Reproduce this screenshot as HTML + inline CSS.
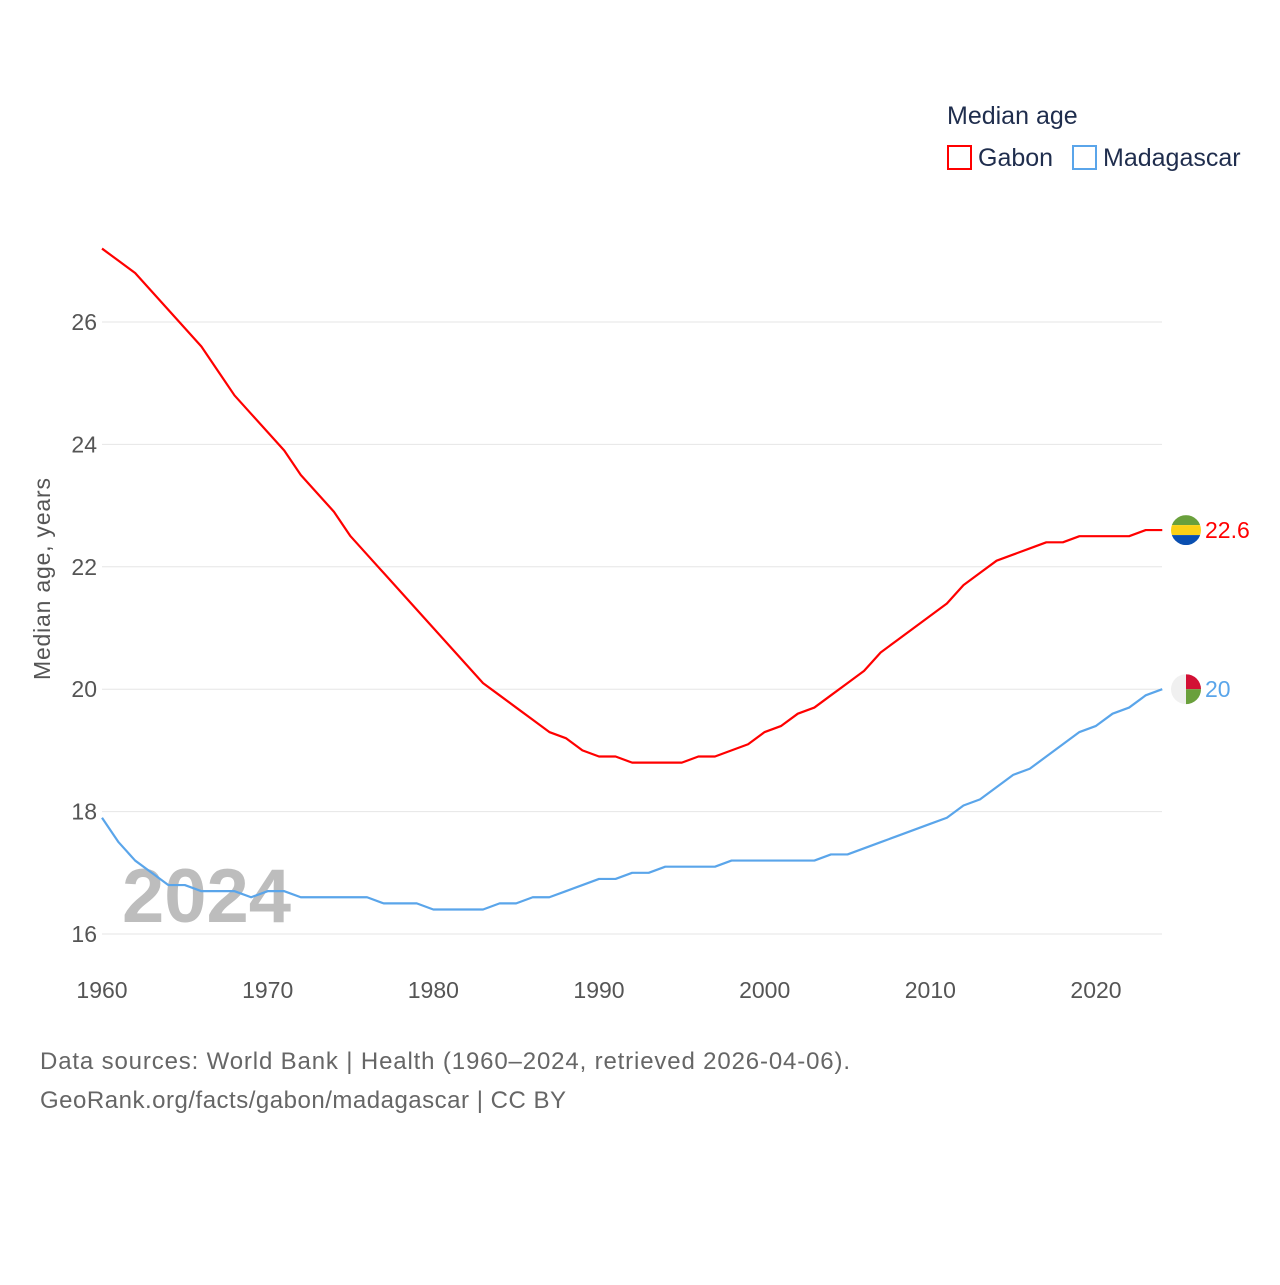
<!DOCTYPE html>
<html><head><meta charset="utf-8"><style>
body{margin:0;background:#fff;}
svg text{font-family:"Liberation Sans",sans-serif;}
</style></head><body>
<svg id="chart" width="1280" height="1280" xmlns="http://www.w3.org/2000/svg">
<g id="grid"></g>
<g id="ticks"></g>
<text x="122" y="922" font-size="76" font-weight="bold" fill="#bdbdbd">2024</text>
<g id="lines"></g>
<text transform="translate(50,579) rotate(-90)" text-anchor="middle" font-size="23" fill="#555" textLength="202">Median age, years</text>
<text x="947" y="124" font-size="25" fill="#1f2d4d">Median age</text>
<rect x="948" y="146" width="23" height="23" fill="none" stroke="#ff0000" stroke-width="2"/>
<text x="978" y="166" font-size="25" fill="#1f2d4d">Gabon</text>
<rect x="1073" y="146" width="23" height="23" fill="none" stroke="#5aa5ea" stroke-width="2"/>
<text x="1103" y="166" font-size="25" fill="#1f2d4d">Madagascar</text>
<text x="40" y="1069" font-size="24" fill="#666" textLength="810">Data sources: World Bank | Health (1960–2024, retrieved 2026-04-06).</text>
<text x="40" y="1108" font-size="24" fill="#666" textLength="526">GeoRank.org/facts/gabon/madagascar | CC BY</text>
</svg>
<script>
const years=[];for(let y=1960;y<=2024;y++)years.push(y);
const gabon=[27.2,27.0,26.8,26.5,26.2,25.9,25.6,25.2,24.8,24.5,24.2,23.9,23.5,23.2,22.9,22.5,22.2,21.9,21.6,21.3,21.0,20.7,20.4,20.1,19.9,19.7,19.5,19.3,19.2,19.0,18.9,18.9,18.8,18.8,18.8,18.8,18.9,18.9,19.0,19.1,19.3,19.4,19.6,19.7,19.9,20.1,20.3,20.6,20.8,21.0,21.2,21.4,21.7,21.9,22.1,22.2,22.3,22.4,22.4,22.5,22.5,22.5,22.5,22.6,22.6];
const madagascar=[17.9,17.5,17.2,17.0,16.8,16.8,16.7,16.7,16.7,16.6,16.7,16.7,16.6,16.6,16.6,16.6,16.6,16.5,16.5,16.5,16.4,16.4,16.4,16.4,16.5,16.5,16.6,16.6,16.7,16.8,16.9,16.9,17.0,17.0,17.1,17.1,17.1,17.1,17.2,17.2,17.2,17.2,17.2,17.2,17.3,17.3,17.4,17.5,17.6,17.7,17.8,17.9,18.1,18.2,18.4,18.6,18.7,18.9,19.1,19.3,19.4,19.6,19.7,19.9,20.0];
const yTicks=[16,18,20,22,24,26];
const xTicks=[1960,1970,1980,1990,2000,2010,2020];
const NS="http://www.w3.org/2000/svg";
const X=v=>102+(v-1960)*(1096-102)/60;
const Y=v=>934-(v-16)*61.2;
function mk(tag,attrs,parent){const e=document.createElementNS(NS,tag);for(const k in attrs)e.setAttribute(k,attrs[k]);parent.appendChild(e);return e;}
const grid=document.getElementById('grid'),ticks=document.getElementById('ticks'),lines=document.getElementById('lines');
yTicks.forEach(t=>{
 const l=mk('line',{x1:102,x2:1162,y1:Y(t),y2:Y(t),stroke:'#e6e6e6','stroke-width':1},grid);
 
 
 const tx=mk('text',{x:97,y:Y(t)+8,'text-anchor':'end','font-size':23,fill:'#555'},ticks);
 tx.textContent=t;
 
 
});
xTicks.forEach(t=>{
 const tx=mk('text',{x:X(t),y:998,'text-anchor':'middle','font-size':23,fill:'#555'},ticks);
 tx.textContent=t;
 
 
});
function series(vals,color,name){
 const p=mk('polyline',{points:vals.map((v,i)=>X(years[i])+','+Y(v)).join(' '),fill:'none',stroke:color,'stroke-width':2.2,'stroke-linejoin':'round'},lines);
 
 
}
series(gabon,'#ff0000','line-gabon');
series(madagascar,'#5aa5ea','line-madagascar');
const svg=document.getElementById('chart');
const gx=1186,gy=Y(gabon[gabon.length-1]),my=Y(madagascar[madagascar.length-1]);
const defs=mk('defs',{},svg);
const c1=mk('clipPath',{id:'cg'},defs);mk('circle',{cx:gx,cy:gy,r:15},c1);
const c2=mk('clipPath',{id:'cm'},defs);mk('circle',{cx:gx,cy:my,r:15},c2);
const fg=mk('g',{'clip-path':'url(#cg)'},svg);


mk('rect',{x:gx-15,y:gy-15,width:30,height:10,fill:'#6aa03c'},fg);
mk('rect',{x:gx-15,y:gy-5,width:30,height:10,fill:'#fcd116'},fg);
mk('rect',{x:gx-15,y:gy+5,width:30,height:10,fill:'#0a4fb0'},fg);
const fm=mk('g',{'clip-path':'url(#cm)'},svg);


mk('rect',{x:gx-15,y:my-15,width:30,height:30,fill:'#f0f0f0'},fm);
mk('rect',{x:gx,y:my-15,width:15,height:15,fill:'#d21034'},fm);
mk('rect',{x:gx,y:my,width:15,height:15,fill:'#6aa03c'},fm);
const lg=mk('text',{x:1205,y:gy+8,'font-size':23,fill:'#ff0000'},svg);
lg.textContent=gabon[gabon.length-1];


const lm=mk('text',{x:1205,y:my+8,'font-size':23,fill:'#5aa5ea'},svg);
lm.textContent=madagascar[madagascar.length-1];


</script>
</body></html>
